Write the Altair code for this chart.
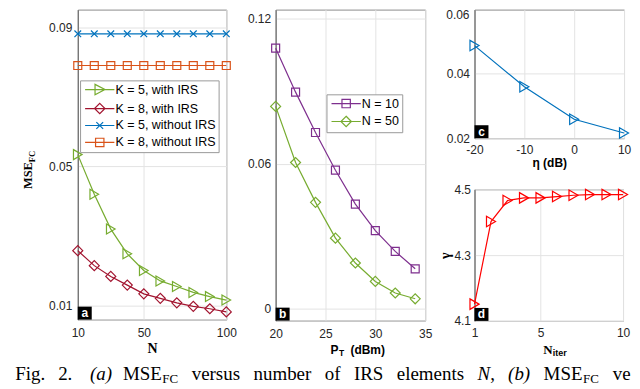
import altair as alt
import pandas as pd

# ---------------- data ----------------
N_vals = [10, 20, 30, 40, 50, 60, 70, 80, 90, 100]
mse_k5_irs = [0.0534, 0.0420, 0.0320, 0.0249, 0.0201, 0.0171, 0.0155, 0.0138, 0.0126, 0.0116]
mse_k8_irs = [0.0258, 0.0215, 0.0184, 0.0159, 0.0134, 0.0121, 0.0108, 0.0098, 0.0091, 0.0082]
mse_k5_noirs = [0.0881, 0.0881, 0.0881, 0.0881, 0.0881, 0.0881, 0.0881, 0.0881, 0.0881, 0.0881]
mse_k8_noirs = [0.0790, 0.0790, 0.0790, 0.0790, 0.0790, 0.0790, 0.0790, 0.0790, 0.0790, 0.0790]
series_a = ["K = 5, with IRS", "K = 8, with IRS", "K = 5, without IRS", "K = 8, without IRS"]

PT_vals = [20, 22, 24, 26, 28, 30, 32, 34]
mse_n10 = [0.1079, 0.0897, 0.0730, 0.0574, 0.0434, 0.0324, 0.0238, 0.0166]
mse_n50 = [0.0838, 0.0606, 0.0441, 0.0293, 0.0190, 0.0114, 0.0066, 0.0042]
series_b = ["N = 10", "N = 50"]

eta_vals = [-20, -10, 0, 10]
mse_eta = [0.0488, 0.0360, 0.0259, 0.0216]

iter_vals = [1, 2, 3, 4, 5, 6, 7, 8, 9, 10]
gamma_vals = [4.151, 4.402, 4.466, 4.474, 4.474, 4.478, 4.482, 4.484, 4.484, 4.484]

panel_tags = ["a", "b", "c", "d"]
caption_words = ["Fig.", "2.", "(a)", "MSE", "FC", "versus", "number", "of", "IRS",
                 "elements", "N", ",", "(b)", "MSE", "FC", "versus"]

# ---------------- style ----------------
SANS = "Liberation Sans"
SERIF = "Liberation Serif"
LABEL_C = "#262626"
GREEN, DRED, BLUE, ORANGE, PURPLE, RED = "#77AC30", "#A2142F", "#0072BD", "#D95319", "#7E2F8E", "#FF0000"
XMARK = "M-1,-1L1,1M-1,1L1,-1"
LINE = "M-0.8,0H4.8"
LEG_TRI = LINE + "M1.1,-1L3,0L1.1,1Z"
LEG_DIA = LINE + "M2,-1L3,0L2,1L1,0Z"
LEG_X = LINE + "M1.35,-0.65L2.65,0.65M1.35,0.65L2.65,-0.65"
LEG_SQ = LINE + "M1.2,-0.8H2.8V0.8H1.2Z"

A_LEFT_PAGE = 76.7
A_TOP_PAGE = 9


def txt(text, x, y, size=12, font=SANS, weight="normal", style="normal", align="center",
        baseline="middle", angle=0, color="black", limit=0):
    kw = dict(font=font, fontSize=size, fontWeight=weight, fontStyle=style, align=align,
              baseline=baseline, angle=angle, color=color)
    if limit:
        kw.update(limit=limit, ellipsis="\u200b")
    return alt.Chart(pd.DataFrame({"t": [text]})).mark_text(**kw).encode(
        x=alt.value(x), y=alt.value(y), text="t:N")


def tag(letter, h):
    d = alt.Chart(pd.DataFrame({"t": [letter]}))
    r = d.mark_rect(color="black").encode(x=alt.value(0), x2=alt.value(14),
                                          y=alt.value(h - 13), y2=alt.value(h))
    t = d.mark_text(color="white", font=SANS, fontSize=12, fontWeight="bold").encode(
        x=alt.value(7), y=alt.value(h - 6.5), text="t:N")
    return [r, t]


def series(xs, ys, xenc, yenc, color, shape, size):
    base = alt.Chart(pd.DataFrame({"x": xs, "y": ys}))
    return [
        base.mark_line(color=color, strokeWidth=1.2).encode(x=xenc, y=yenc),
        base.mark_point(shape=shape, size=size, color=color, filled=False,
                        strokeWidth=1.2, opacity=1).encode(x=xenc, y=yenc),
    ]


def legend_layer(field, names, colors, paths, lx, ly):
    leg = alt.Legend(title=None, orient="none", legendX=lx, legendY=ly, direction="vertical",
                     fillColor="white", strokeColor="#9a9a9a", padding=3, cornerRadius=0,
                     labelFont=SANS, labelFontSize=12.5, labelColor="black",
                     symbolSize=110, symbolStrokeWidth=1.2, labelOffset=20, rowPadding=3,
                     symbolOpacity=1)
    return alt.Chart(pd.DataFrame({field: names})).mark_point(opacity=0, filled=False).encode(
        color=alt.Color(f"{field}:N", scale=alt.Scale(domain=names, range=colors), legend=leg),
        shape=alt.Shape(f"{field}:N", scale=alt.Scale(domain=names, range=paths), legend=leg),
    )


# ---------------- panel a ----------------
WA, HA = 149, 311
xa = alt.X("x:Q", scale=alt.Scale(domain=[10, 100], nice=False, zero=False),
           axis=alt.Axis(values=[10, 50, 100], format="d", title="N", titleFont=SERIF,
                         titleFontSize=14, titleFontWeight="bold", titlePadding=3,
                         titleColor="black", labelPadding=8))
ya = alt.Y("y:Q", scale=alt.Scale(domain=[0.00599, 0.09507], nice=False, zero=False),
           axis=alt.Axis(values=[0.01, 0.05, 0.09], labelExpr="format(datum.value, '.2f')",
                         title=None, labelPadding=6))

layers_a = []
for vals, col, shp, sz in zip([mse_k5_irs, mse_k8_irs, mse_k5_noirs, mse_k8_noirs],
                              [GREEN, DRED, BLUE, ORANGE],
                              ["triangle-right", "diamond", XMARK, "square"],
                              [100, 100, 45, 64]):
    layers_a += series(N_vals, vals, xa, ya, col, shp, sz)
layers_a.append(legend_layer("sa", series_a, [GREEN, DRED, BLUE, ORANGE],
                             [LEG_TRI, LEG_DIA, LEG_X, LEG_SQ], 2.3, 80 - A_TOP_PAGE))
layers_a += tag(panel_tags[0], HA)
# y title MSE_FC
layers_a.append(txt("MSE", -49.7, 175.5 - A_TOP_PAGE, size=12.5, font=SERIF, weight="bold",
                    angle=270))
layers_a.append(txt("FC", -46.2, 156.5 - A_TOP_PAGE, size=8.5, font=SERIF, weight="bold",
                    angle=270))

# caption (page x, italic, size, dy, limit)
cap_layout = [
    (14, False, 19, 0, 0), (57, False, 19, 0, 0), (89, True, 19, 0, 0),
    (122, False, 19, 0, 0), (161.5, False, 13, 3, 0),
    (191, False, 19, 0, 0), (253, False, 19, 0, 0), (324.5, False, 19, 0, 0),
    (353.7, False, 19, 0, 0), (396.7, False, 19, 0, 0), (477.6, True, 19, 0, 0),
    (490.5, False, 19, 0, 0), (508.4, True, 19, 0, 0), (544, False, 19, 0, 0),
    (583.5, False, 13, 3, 0), (613.4, False, 19, 0, 18.5),
]
CAP_BASE = 381
for word, (px, it, sz, dy, lim) in zip(caption_words, cap_layout):
    layers_a.append(txt(word, px - A_LEFT_PAGE, CAP_BASE - A_TOP_PAGE + dy, size=sz, font=SERIF,
                        style="italic" if it else "normal", align="left",
                        baseline="alphabetic", limit=lim))

panel_a = alt.layer(*layers_a).properties(width=WA, height=HA)

# ---------------- panel b ----------------
WB, HB = 150, 312
xb = alt.X("x:Q", scale=alt.Scale(domain=[20, 35], nice=False, zero=False),
           axis=alt.Axis(values=[20, 25, 30, 35], format="d", title=None, labelPadding=8))
yb = alt.Y("y:Q", scale=alt.Scale(domain=[-0.00482, 0.12384], nice=False, zero=False),
           axis=alt.Axis(values=[0, 0.06, 0.12],
                         labelExpr="datum.value == 0 ? '0' : format(datum.value, '.2f')",
                         title=None, labelPadding=5))
layers_b = []
layers_b += series(PT_vals, mse_n10, xb, yb, PURPLE, "square", 64)
layers_b += series(PT_vals, mse_n50, xb, yb, GREEN, "diamond", 100)
layers_b.append(legend_layer("sb", series_b, [PURPLE, GREEN], [LEG_SQ, LEG_DIA], 51,
                             94 - A_TOP_PAGE))
layers_b += tag(panel_tags[1], HB)
layers_b.append(txt("P", 55, 351 - A_TOP_PAGE, size=12, weight="bold", align="left"))
layers_b.append(txt("T", 63.5, 354 - A_TOP_PAGE, size=8.5, weight="bold", align="left"))
layers_b.append(txt("(dBm)", 75, 351 - A_TOP_PAGE, size=12, weight="bold", align="left"))
panel_b = alt.layer(*layers_b).properties(width=WB, height=HB)

# ---------------- panel c ----------------
WC, HC = 150, 129
xc = alt.X("x:Q", scale=alt.Scale(domain=[-20, 10], nice=False, zero=False),
           axis=alt.Axis(values=[-20, -10, 0, 10], labelExpr="'' + datum.value",
                         title="η (dB)", titleFont=SANS, titleFontSize=12,
                         titleFontWeight="bold", titlePadding=2, titleColor="black",
                         labelPadding=6))
yc = alt.Y("y:Q", scale=alt.Scale(domain=[0.02, 0.06], nice=False, zero=False),
           axis=alt.Axis(values=[0.02, 0.04], labelExpr="format(datum.value, '.2f')",
                         title=None, labelPadding=5))
layers_c = series(eta_vals, mse_eta, xc, yc, BLUE, "triangle-right", 110)
layers_c += tag(panel_tags[2], HC)
# top tick label kept inside the page (the reference draws it at the very top edge)
layers_c.append(txt("0.06", -5, 0.5, size=12, align="right", baseline="top", color=LABEL_C))
panel_c = alt.layer(*layers_c).properties(width=WC, height=HC)

# ---------------- panel d ----------------
WD, HD = 149, 132
xd = alt.X("x:Q", scale=alt.Scale(domain=[1, 10], nice=False, zero=False),
           axis=alt.Axis(values=[1, 5, 10], format="d", title=None, labelPadding=7))
yd = alt.Y("y:Q", scale=alt.Scale(domain=[4.1, 4.5], nice=False, zero=False),
           axis=alt.Axis(values=[4.1, 4.3, 4.5], labelExpr="format(datum.value, '.1f')",
                         title="γ", titleFont=SERIF,
                         titleFontSize=14, titleFontWeight="bold", titlePadding=1,
                         titleColor="black", labelPadding=4))
layers_d = series(iter_vals, gamma_vals, xd, yd, RED, "triangle-right", 110)
layers_d += tag(panel_tags[3], HD)
layers_d.append(txt("N", 69, 161, size=13, font=SERIF, weight="bold", align="left"))
layers_d.append(txt("iter", 78.5, 164, size=9, weight="bold", align="left"))
panel_d = alt.layer(*layers_d).properties(width=WD, height=HD)

# ---------------- compose ----------------
right_col = alt.vconcat(panel_c, panel_d, spacing=51.3, bounds="flush")
chart = alt.hconcat(panel_a, panel_b, right_col, spacing=49.5, bounds="flush").resolve_scale(
    color="independent", shape="independent"
).properties(
    padding={"left": 6, "top": 0, "right": 0, "bottom": -3}, background="white"
).configure_axis(
    labelFont=SANS, labelFontSize=12, labelColor=LABEL_C, ticks=False, tickSize=0,
    grid=True, gridColor="#e3e3e3", gridWidth=1
).configure_axisX(
    domainColor="#cfcfcf", labelFlush=False
).configure_axisY(
    domainColor="#5a5a5a"
).configure_view(stroke="#8c8c8c", strokeWidth=1)

chart.save("out.html", embed_options={"renderer": "svg", "actions": False})
